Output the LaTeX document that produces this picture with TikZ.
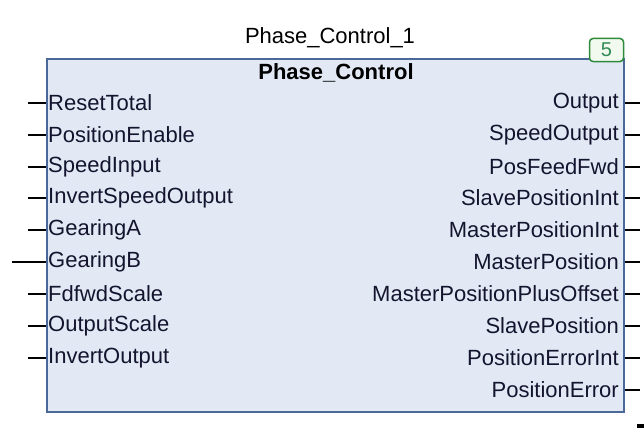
\documentclass[tikz,border=0pt]{standalone}
\usepackage{fontspec}
\setmainfont{Liberation Sans}
\definecolor{boxfill}{HTML}{E2E9F5}
\definecolor{boxline}{HTML}{4A6898}
\definecolor{badgeline}{HTML}{2E8B3A}
\definecolor{badgefill}{HTML}{F2F9EF}
\definecolor{badgetext}{HTML}{2F8A55}
\definecolor{pintext}{HTML}{14142E}
\begin{document}
\begin{tikzpicture}[x=1pt,y=-1pt,
  lbl/.style={inner sep=0pt,font=\fontsize{22}{26}\selectfont,text=pintext},
  pin/.style={draw=black,line width=2pt},
  fbbox/.style={draw=boxline,fill=boxfill,line width=2.2pt}]
\useasboundingbox (0,0) rectangle (644,428);
\fill[white] (0,0) rectangle (644,428);
% block
\node[fbbox,minimum width=577pt,minimum height=353pt,inner sep=0pt,anchor=north west] (fb) at (46,58) {};
\node[lbl,text=black] (inst) at (330,38) {Phase\_Control\_1};
\node[lbl,text=black,font=\fontsize{22}{26}\selectfont\bfseries] (type) at (336,73) {Phase\_Control};
\node[draw=badgeline,fill=badgefill,line width=1.5pt,rounded corners=3.5pt,minimum width=34pt,minimum height=23pt,inner sep=0pt,text=badgetext,font=\fontsize{20}{22}\selectfont] (badge) at (606.5,50) {5};
% inputs
\foreach \t/\y [count=\i] in {ResetTotal/103,PositionEnable/135,SpeedInput/167,InvertSpeedOutput/198,GearingA/230,GearingB/262,FdfwdScale/294,OutputScale/326,InvertOutput/358}{
  \node[lbl,anchor=west] (in\i) at (48,\y) {\t};
  \coordinate (ine\i) at (28,\y);
}
\foreach \i in {1,2,3,4,5,7,8,9}{
  \draw[pin] (ine\i) -- (fb.west |- ine\i);
}
\coordinate (ineB) at (12,262);
\draw[pin] (ineB) -- (fb.west |- ineB);
% outputs
\foreach \t/\y [count=\i] in {Output/103,SpeedOutput/135,PosFeedFwd/167,SlavePositionInt/198,MasterPositionInt/230,MasterPosition/262,MasterPositionPlusOffset/294,SlavePosition/326,PositionErrorInt/358,PositionError/390}{
  \node[lbl,anchor=east] (out\i) at (619,\y) {\t};
  \coordinate (oute\i) at (640,\y);
  \draw[pin] (fb.east |- oute\i) -- (oute\i);
}
% partial mark at bottom right
\fill[black] (637,424) rectangle (644,428);
\end{tikzpicture}
\end{document}
